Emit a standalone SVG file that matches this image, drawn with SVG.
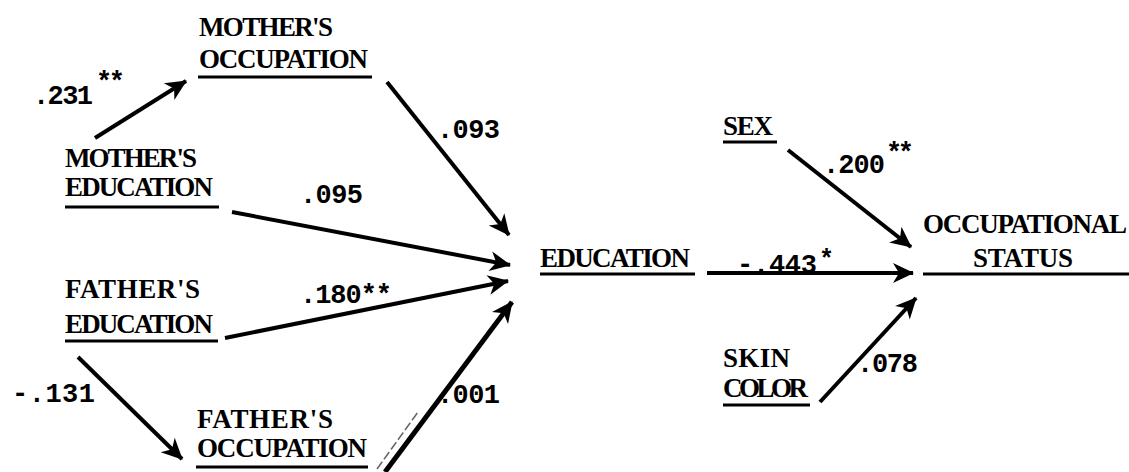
<svg xmlns="http://www.w3.org/2000/svg" width="1129" height="472" viewBox="0 0 1129 472">
  <style>
    text { font-family: "Liberation Mono", "Courier New", monospace; font-size: 27px; fill: #000; }
    .lbl text { font-family: "Liberation Serif", "Times New Roman", serif; font-weight: bold; font-size: 27px; }
    .num { font-weight: bold; }
    .ul { stroke: #000; stroke-width: 3; }
    .edge { stroke: #000; stroke-width: 4; fill: none; marker-end: url(#arrow); }
  </style>
  <defs>
    <marker id="arrow" viewBox="-22 -11 24 22" refX="0" refY="0" markerWidth="24" markerHeight="22" markerUnits="userSpaceOnUse" orient="auto">
      <path d="M1,0 L-20,-10 L-14,0 L-20,10 Z" fill="#000"/>
    </marker>
  </defs>

  <!-- path connectors -->
  <g id="connectors">
    <line class="edge" x1="95" y1="138" x2="186" y2="81"/>
    <line class="edge" x1="387" y1="82" x2="509" y2="235"/>
    <line class="edge" x1="232" y1="212" x2="510" y2="265"/>
    <line class="edge" x1="225" y1="338" x2="508" y2="281"/>
    <line class="edge" x1="78" y1="357" x2="182" y2="459"/>
    <line x1="377" y1="469" x2="418" y2="412" stroke="#000" stroke-width="1.5" stroke-dasharray="9 3" opacity="0.6"/>
    <line class="edge" x1="385" y1="472" x2="512" y2="302" style="stroke-width:5"/>
    <line class="edge" x1="707" y1="273" x2="913" y2="273"/>
    <line class="edge" x1="788" y1="150" x2="911" y2="247"/>
    <line class="edge" x1="820" y1="402" x2="916" y2="298"/>
  </g>

  <!-- path coefficients -->
  <g id="coefficients" class="num">
    <text x="33" y="104" textLength="60">.231</text>
    <text x="96" y="90" textLength="29">**</text>
    <text x="437" y="138" textLength="63">.093</text>
    <text x="300" y="203" textLength="63">.095</text>
    <text x="300" y="303" textLength="92">.180**</text>
    <text x="12" y="402" textLength="83">-.131</text>
    <text x="437" y="403" textLength="63">.001</text>
    <text x="823" y="173" textLength="62">.200</text>
    <text x="886" y="161" textLength="28">**</text>
    <text x="737" y="273" textLength="80">-.443</text>
    <text x="819" y="267" style="font-size:25px">*</text>
    <text x="857" y="372" textLength="61">.078</text>
  </g>

  <g id="mothers-occupation" class="lbl">
    <text x="199" y="36" textLength="134">MOTHER'S</text>
    <text x="199" y="68" textLength="169">OCCUPATION</text>
    <line class="ul" x1="198" y1="77" x2="372" y2="77"/>
  </g>

  <g id="mothers-education" class="lbl">
    <text x="65" y="167" textLength="132">MOTHER'S</text>
    <text x="65" y="196" textLength="148">EDUCATION</text>
    <line class="ul" x1="65" y1="207" x2="219" y2="207"/>
  </g>

  <g id="fathers-education" class="lbl">
    <text x="65" y="298" textLength="135">FATHER'S</text>
    <text x="65" y="333" textLength="148">EDUCATION</text>
    <line class="ul" x1="65" y1="341" x2="218" y2="341"/>
  </g>

  <g id="fathers-occupation" class="lbl">
    <text x="197" y="428" textLength="136">FATHER'S</text>
    <text x="197" y="457" textLength="170">OCCUPATION</text>
    <line class="ul" x1="196" y1="467" x2="368" y2="467"/>
  </g>

  <g id="education" class="lbl">
    <text x="540" y="267" textLength="150">EDUCATION</text>
    <line class="ul" x1="540" y1="274" x2="695" y2="274"/>
  </g>

  <g id="sex" class="lbl">
    <text x="723" y="135" textLength="50">SEX</text>
    <line class="ul" x1="723" y1="142" x2="777" y2="142"/>
  </g>

  <g id="skin-color" class="lbl">
    <text x="723" y="367" textLength="67">SKIN</text>
    <text x="723" y="397" textLength="85">COLOR</text>
    <line class="ul" x1="723" y1="405" x2="810" y2="405"/>
  </g>

  <g id="occupational-status" class="lbl">
    <text x="923" y="233" textLength="204">OCCUPATIONAL</text>
    <text x="973" y="267" textLength="100">STATUS</text>
    <line class="ul" x1="923" y1="274" x2="1129" y2="274"/>
  </g>
</svg>
